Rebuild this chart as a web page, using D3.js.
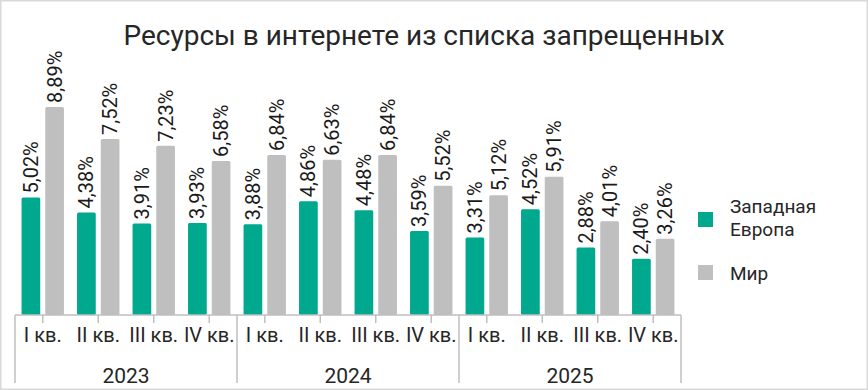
<!DOCTYPE html>
<html>
<head>
<meta charset="utf-8">
<script src="https://cdn.jsdelivr.net/npm/d3@7"></script>
<style>
  body { margin: 0; background: #fff; }
  text { font-family: Roboto, "Open Sans", sans-serif; fill: #262626; }
</style>
</head>
<body>
<div id="chart"></div>
<script>
const title = "Ресурсы в интернете из списка запрещенных";
const years = ["2023", "2024", "2025"];
const quarters = ["I кв.", "II кв.", "III кв.", "IV кв."];
const seriesNames = ["Западная Европа", "Мир"];
const europe = [5.02, 4.38, 3.91, 3.93, 3.88, 4.86, 4.48, 3.59, 3.31, 4.52, 2.88, 2.40];
const world = [8.89, 7.52, 7.23, 6.58, 6.84, 6.63, 6.84, 5.52, 5.12, 5.91, 4.01, 3.26];
const colors = ["#00a88e", "#bfbfbf"];

const width = 868, height = 390;
const margin = { left: 15, right: 187, top: 81, bottom: 75 };
const baseY = height - margin.bottom;

// one row per quarter
const rows = [];
years.forEach((yr, yi) => quarters.forEach((q, qi) => {
    const i = yi * quarters.length + qi;
    rows.push({ key: yr + "-" + q, year: yr, quarter: q, values: [europe[i], world[i]] });
}));

const svg = d3.select("#chart").append("svg")
    .attr("width", width)
    .attr("height", height);

// frame
svg.append("rect")
    .attr("x", 0.75).attr("y", 0.75)
    .attr("width", width - 1.5).attr("height", height - 1.5)
    .attr("fill", "#fff")
    .attr("stroke", "#d9d9d9")
    .attr("stroke-width", 1.5);

const x = d3.scaleBand()
    .domain(rows.map(d => d.key))
    .range([margin.left, width - margin.right]);

const xs = d3.scaleBand()
    .domain([0, 1])
    .range([0, x.bandwidth()])
    .paddingInner(0.211)
    .paddingOuter(0.276);

const y = d3.scaleLinear()
    .domain([0, 10])
    .range([baseY, margin.top]);

const fmt = v => d3.format(".2f")(v).replace(".", ",") + "%";

// title
svg.append("text")
    .attr("x", 424).attr("y", 45)
    .attr("text-anchor", "middle")
    .style("font-size", "28px")
    .text(title);

// bars
const groups = svg.append("g").attr("class", "bars")
    .selectAll("g")
    .data(rows)
    .enter()
    .append("g")
    .attr("transform", d => `translate(${x(d.key)},0)`);

groups.selectAll("rect")
    .data(d => d.values)
    .enter()
    .append("rect")
    .attr("x", (d, i) => xs(i))
    .attr("y", d => y(d))
    .attr("width", xs.bandwidth())
    .attr("height", d => baseY - y(d))
    .attr("rx", 1.5)
    .attr("fill", (d, i) => colors[i]);

groups.selectAll("text")
    .data(d => d.values)
    .enter()
    .append("text")
    .attr("transform", (d, i) => `translate(${xs(i) + xs.bandwidth() / 2},${y(d) - 4}) rotate(-90)`)
    .attr("dominant-baseline", "central")
    .style("font-size", "20px")
    .style("fill", "#1a1a1a")
    .text(d => fmt(d));

// category axis
const axis = svg.append("g").attr("class", "x-axis")
    .attr("stroke", "#bfbfbf")
    .attr("stroke-width", 1.5);

axis.append("line")
    .attr("x1", margin.left).attr("x2", width - margin.right)
    .attr("y1", baseY).attr("y2", baseY);

axis.selectAll(".tick")
    .data(rows)
    .enter()
    .append("line")
    .attr("x1", d => x(d.key) + x.bandwidth() / 2)
    .attr("x2", d => x(d.key) + x.bandwidth() / 2)
    .attr("y1", baseY).attr("y2", baseY + 8);

const yearEdges = years.map((yr, yi) => x(rows[yi * quarters.length].key)).concat([width - margin.right]);
axis.selectAll(".sep")
    .data(yearEdges)
    .enter()
    .append("line")
    .attr("x1", d => d).attr("x2", d => d)
    .attr("y1", baseY).attr("y2", 383);

svg.append("g").selectAll("text")
    .data(rows)
    .enter()
    .append("text")
    .attr("x", d => x(d.key) + x.bandwidth() / 2)
    .attr("y", 342)
    .attr("text-anchor", "middle")
    .style("font-size", "20px")
    .text(d => d.quarter);

svg.append("g").selectAll("text")
    .data(years)
    .enter()
    .append("text")
    .attr("x", (d, i) => (yearEdges[i] + yearEdges[i + 1]) / 2)
    .attr("y", 383)
    .attr("text-anchor", "middle")
    .style("font-size", "21px")
    .text(d => d);

// legend
const legend = svg.append("g").attr("class", "legend");
legend.append("rect")
    .attr("x", 698).attr("y", 212).attr("width", 15).attr("height", 15)
    .attr("fill", colors[0]);
legend.selectAll(".line1")
    .data(seriesNames[0].split(" "))
    .enter()
    .append("text")
    .attr("x", 730)
    .attr("y", (d, i) => 213 + i * 23)
    .style("font-size", "19px")
    .text(d => d);
legend.append("rect")
    .attr("x", 698).attr("y", 265).attr("width", 15).attr("height", 15)
    .attr("fill", colors[1]);
legend.append("text")
    .attr("x", 730).attr("y", 280)
    .style("font-size", "19px")
    .text(seriesNames[1]);
</script>
</body>
</html>
